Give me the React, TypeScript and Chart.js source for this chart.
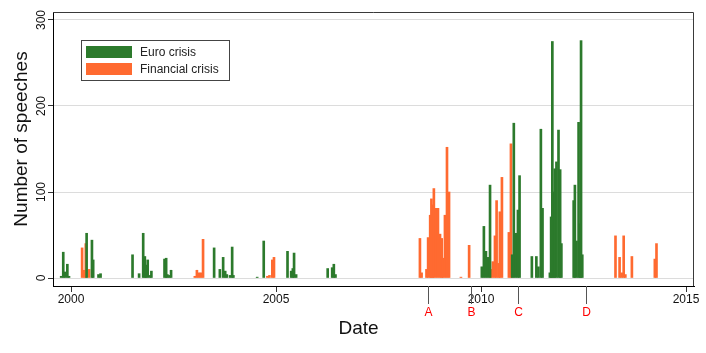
import { useEffect, useRef } from 'react';
import { Chart, registerables } from 'chart.js';

Chart.register(...registerables);

// Weekly counts of speeches (date as decimal year)
const euroDates = [1999.76, 1999.81, 1999.85, 1999.91, 1999.95, 2000.38, 2000.51, 2000.54, 2000.67, 2000.72, 2001.50, 2001.66, 2001.76, 2001.80, 2001.83, 2001.87, 2001.93, 2001.96, 2002.28, 2002.32, 2002.35, 2002.40, 2002.44, 2003.49, 2003.63, 2003.71, 2003.76, 2003.80, 2003.88, 2003.93, 2003.96, 2004.54, 2004.70, 2005.28, 2005.37, 2005.41, 2005.44, 2005.49, 2006.26, 2006.37, 2006.41, 2006.45, 2010.02, 2010.07, 2010.12, 2010.17, 2010.22, 2010.76, 2010.80, 2010.85, 2010.90, 2010.94, 2011.24, 2011.35, 2011.40, 2011.46, 2011.50, 2011.68, 2011.71, 2011.74, 2011.77, 2011.80, 2011.84, 2011.89, 2011.93, 2011.96, 2012.26, 2012.29, 2012.33, 2012.38, 2012.41, 2012.44, 2012.47];
const euroCounts = [2, 30, 7, 16, 2, 52, 44, 21, 4, 5, 27, 5, 52, 25, 15, 21, 3, 8, 22, 23, 4, 3, 9, 35, 10, 24, 8, 4, 3, 36, 3, 1, 43, 31, 8, 11, 29, 4, 11, 12, 16, 4, 13, 60, 31, 24, 108, 27, 180, 52, 79, 119, 25, 25, 13, 173, 81, 6, 71, 275, 100, 127, 135, 172, 126, 40, 90, 108, 43, 181, 63, 276, 27];

const finDates = [2000.27, 2000.32, 2000.36, 2000.44, 2003.02, 2003.07, 2003.12, 2003.17, 2003.22, 2004.79, 2004.84, 2004.91, 2004.95, 2008.51, 2008.55, 2008.67, 2008.71, 2008.76, 2008.79, 2008.82, 2008.85, 2008.90, 2008.95, 2009.00, 2009.04, 2009.07, 2009.12, 2009.17, 2009.22, 2009.51, 2009.71, 2010.24, 2010.29, 2010.34, 2010.38, 2010.43, 2010.46, 2010.51, 2010.68, 2010.73, 2013.28, 2013.38, 2013.43, 2013.48, 2013.52, 2013.68, 2014.24, 2014.28];
const finCounts = [35, 9, 40, 10, 2, 9, 6, 6, 45, 2, 3, 21, 24, 46, 6, 10, 47, 73, 92, 85, 104, 81, 81, 51, 46, 23, 73, 152, 100, 1, 38, 10, 19, 49, 90, 17, 77, 117, 53, 156, 49, 24, 6, 49, 4, 25, 22, 40];

const seriesNames = ['Euro crisis', 'Financial crisis'];
const seriesColors = ['#2c7a2c', '#ff6a30'];

const yearTicks = [2000, 2005, 2010, 2015];
const countTicks = [0, 100, 200, 300];
const eventDates = [2008.71, 2009.76, 2010.91, 2012.56];
const eventLabels = ['A', 'B', 'C', 'D'];

const xTitle = 'Date';
const yTitle = 'Number of speeches';

const FONT = "'Liberation Sans', Arial, Helvetica, sans-serif";

export default function App() {
  const ref = useRef<HTMLCanvasElement>(null);

  useEffect(() => {
    const canvas = ref.current;
    if (!canvas) return;

    const overlay = {
      id: 'overlay',
      afterDraw(chart: any) {
        const { ctx, chartArea: a, scales } = chart;
        const xs = scales.x;
        const ys = scales.y;
        ctx.save();
        // frame top/right
        ctx.strokeStyle = '#3a3a3a';
        ctx.lineWidth = 1;
        ctx.beginPath();
        ctx.moveTo(a.left, a.top + 0.5);
        ctx.lineTo(a.right - 0.5, a.top + 0.5);
        ctx.lineTo(a.right - 0.5, a.bottom);
        ctx.stroke();

        // rotated y tick labels
        ctx.fillStyle = '#111';
        ctx.font = `12px ${FONT}`;
        ctx.textAlign = 'center';
        ctx.textBaseline = 'alphabetic';
        countTicks.forEach((v) => {
          const y = ys.getPixelForValue(v);
          ctx.save();
          ctx.translate(a.left - 8, y);
          ctx.rotate(-Math.PI / 2);
          ctx.fillText(String(v), 0, 0);
          ctx.restore();
        });

        // event markers
        eventDates.forEach((d, i) => {
          const x = Math.round(xs.getPixelForValue(d)) + 0.5;
          ctx.strokeStyle = '#555';
          ctx.beginPath();
          ctx.moveTo(x, a.bottom);
          ctx.lineTo(x, a.bottom + 18);
          ctx.stroke();
          ctx.fillStyle = '#ff0000';
          ctx.textAlign = 'center';
          ctx.textBaseline = 'middle';
          ctx.fillText(eventLabels[i], x, a.bottom + 27);
        });

        // axis titles
        ctx.fillStyle = '#111';
        ctx.font = `19px ${FONT}`;
        ctx.textAlign = 'center';
        ctx.textBaseline = 'middle';
        ctx.fillText(xTitle, (a.left + a.right) / 2 - 15, a.bottom + 43);
        ctx.save();
        ctx.translate(a.left - 31, (a.top + a.bottom) / 2 - 10);
        ctx.rotate(-Math.PI / 2);
        ctx.fillText(yTitle, 0, 0);
        ctx.restore();

        // legend
        ctx.font = `12px ${FONT}`;
        const lx = a.left + 28;
        const ly = a.top + 28;
        ctx.fillStyle = '#fff';
        ctx.fillRect(lx, ly, 148, 40);
        ctx.strokeStyle = '#444';
        ctx.strokeRect(lx + 0.5, ly + 0.5, 148, 40);
        seriesNames.forEach((n, i) => {
          ctx.fillStyle = seriesColors[i];
          ctx.fillRect(lx + 5, ly + 6 + i * 17, 46, 12);
          ctx.fillStyle = '#222';
          ctx.textAlign = 'left';
          ctx.textBaseline = 'middle';
          ctx.fillText(n, lx + 59, ly + 12.5 + i * 17);
        });
        ctx.restore();
      },
    };

    const chart = new Chart(canvas, {
      type: 'bar',
      data: {
        datasets: [
          {
            label: seriesNames[0],
            data: euroDates.map((d, i) => ({ x: d, y: euroCounts[i] })),
            backgroundColor: seriesColors[0],
            borderWidth: 0,
            barThickness: 2,
            stack: 'all',
          },
          {
            label: seriesNames[1],
            data: finDates.map((d, i) => ({ x: d, y: finCounts[i] })),
            backgroundColor: seriesColors[1],
            borderWidth: 0,
            barThickness: 2,
            stack: 'all',
          },
        ],
      },
      options: {
        responsive: false,
        animation: false,
        layout: { padding: { left: 0, right: 12, top: 12, bottom: 0 } },
        plugins: {
          legend: { display: false },
          tooltip: { enabled: false },
        },
        scales: {
          x: {
            type: 'linear',
            offset: false,
            min: 1999.56,
            max: 2015.195,
            afterBuildTicks: (s: any) => {
              s.ticks = yearTicks.map((v) => ({ value: v }));
            },
            afterFit: (s: any) => {
              s.height = 67;
            },
            ticks: {
              callback: (v: any) => String(v),
              font: { family: FONT, size: 12 },
              color: '#111',
              padding: 0,
              maxRotation: 0,
              autoSkip: false,
            },
            grid: {
              display: true,
              offset: false,
              drawOnChartArea: false,
              drawTicks: true,
              tickLength: 6,
              tickColor: '#333',
            },
            border: { display: true, color: '#000', width: 1 },
            title: { display: false },
          },
          y: {
            type: 'linear',
            stacked: false,
            min: -9.3,
            max: 309.3,
            afterBuildTicks: (s: any) => {
              s.ticks = countTicks.map((v) => ({ value: v }));
            },
            afterFit: (s: any) => {
              s.width = 53;
            },
            ticks: { display: false },
            grid: {
              color: '#dcdcdc',
              lineWidth: 1,
              drawTicks: true,
              tickLength: 5,
              tickColor: '#333',
            },
            border: { display: true, color: '#000', width: 1 },
            title: { display: false },
          },
        },
      },
      plugins: [overlay],
    } as any);

    return () => chart.destroy();
  }, []);

  return (
    <div style={{ position: 'fixed', left: 0, top: 0, width: 706, height: 353, background: '#fff' }}>
      <canvas ref={ref} width={706} height={353} style={{ display: 'block' }} />
    </div>
  );
}
